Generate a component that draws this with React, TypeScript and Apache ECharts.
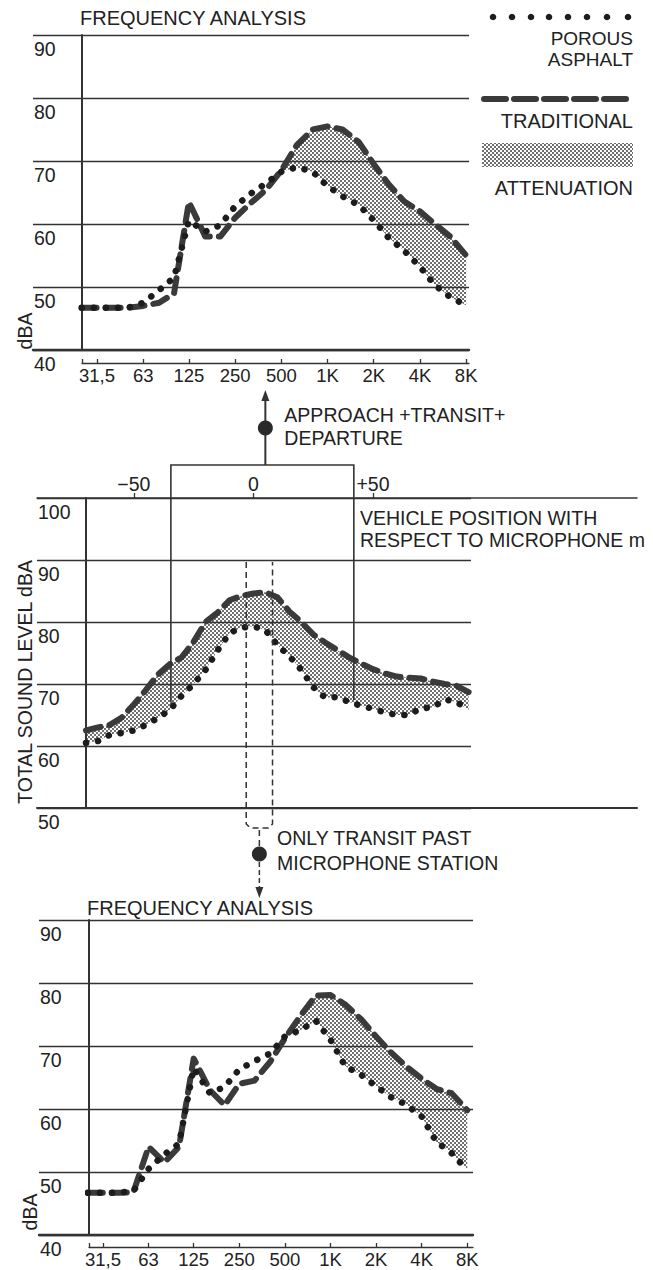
import React, { useEffect, useRef } from "react";
import * as echarts from "echarts";

// Third-octave band centres (Hz) shared by both spectra
const bandHz = [25, 31.5, 40, 50, 63, 80, 100, 125, 160, 200, 250, 315, 400, 500, 630, 800, 1000, 1250, 1600, 2000, 2500, 3150, 4000, 5000, 6300, 8000];
const octaveHz = [31.5, 63, 125, 250, 500, 1000, 2000, 4000, 8000];
const octaveLabels = ["31,5", "63", "125", "250", "500", "1K", "2K", "4K", "8K"];
const attenuationFromHz = 500;

// Approach + transit + departure spectrum, dBA
const fullTraditional = [46.7, 46.7, 46.7, 46.7, 47.0, 47.5, 49.0, 63.5, 58.0, 58.0, 61.0, 63.3, 65.5, 68.5, 72.5, 75.0, 75.5, 75.0, 73.0, 69.5, 66.3, 63.6, 62.0, 60.0, 58.0, 55.0];
const fullPorous = [46.7, 46.7, 46.7, 46.7, 47.5, 49.5, 51.5, 60.5, 58.8, 59.8, 62.8, 64.8, 66.5, 68.3, 69.0, 68.3, 66.0, 64.4, 63.0, 60.6, 57.8, 55.8, 53.2, 50.3, 48.4, 47.1];

// Transit-only spectrum, dBA
const transitTraditional = [46.7, 46.7, 46.7, 46.8, 54.0, 51.5, 54.0, 68.0, 63.0, 60.6, 64.0, 64.5, 67.5, 71.2, 74.7, 78.0, 78.1, 76.6, 74.2, 71.5, 69.0, 66.8, 64.8, 63.2, 62.5, 59.8];
const transitPorous = [46.7, 46.7, 46.7, 47.0, 50.5, 52.8, 54.5, 66.5, 62.5, 63.5, 66.3, 67.6, 68.8, 71.5, 72.5, 74.0, 71.0, 66.8, 65.4, 63.6, 61.9, 60.7, 58.8, 54.8, 53.0, 50.3];

// Total sound level against vehicle position (m)
const positionM = [-70, -65, -60, -55, -50, -45, -40, -35, -30, -25, -20, -15, -10, -5, 0, 5, 10, 15, 20, 25, 30, 35, 40, 45, 50, 55, 60, 65, 70, 75, 80, 85, 90];
const passTraditional = [62.5, 63.0, 63.4, 64.6, 66.7, 69.0, 71.5, 73.2, 74.3, 76.8, 80.0, 81.5, 83.5, 84.2, 84.6, 84.8, 84.0, 81.7, 80.0, 78.0, 76.7, 75.5, 74.3, 73.3, 72.4, 71.7, 71.2, 71.0, 70.9, 70.4, 70.0, 69.7, 68.7];
const passPorous = [60.5, 60.8, 61.8, 62.1, 62.5, 63.4, 64.5, 65.8, 68.1, 70.0, 72.3, 75.4, 78.2, 79.1, 79.3, 78.7, 76.3, 74.5, 72.3, 69.5, 67.8, 67.9, 67.1, 66.5, 66.0, 65.4, 65.0, 65.0, 66.1, 66.2, 67.5, 67.1, 65.8];
const positionTicks = [-50, 0, 50];

// Position windows marked on the pass-by plot (m)
const approachWindow = [-34.5, 42];
const transitWindow = [-3, 8];

const FONT = "'Liberation Sans', Arial, Helvetica, sans-serif";
const INK = "#222";
const RULE = "#333";
const DASH_INK = "#3a3a3a";
const DOT_INK = "#1c1c1c";

const oct = (hz: number) => Math.log2(hz / 31.5);

function makeStipple(): any {
  const c = document.createElement("canvas");
  c.width = 4;
  c.height = 4;
  const g = c.getContext("2d")!;
  g.fillStyle = "#333";
  for (const [x, y] of [[1, 1], [3, 3]]) {
    g.beginPath();
    g.arc(x, y, 0.95, 0, Math.PI * 2);
    g.fill();
  }
  return { image: c.toDataURL(), repeat: "repeat", imageWidth: 4, imageHeight: 4 };
}

function bandSeries(xIdx: number, yIdx: number, xs: number[], upper: number[], lower: number[], from: number, fill: any) {
  return {
    type: "custom",
    xAxisIndex: xIdx,
    yAxisIndex: yIdx,
    silent: true,
    z: 1,
    data: [[xs[from], lower[from]]],
    renderItem: (_p: any, api: any) => {
      const top: number[][] = [];
      const bottom: number[][] = [];
      for (let i = from; i < xs.length; i++) {
        top.push(api.coord([xs[i], Math.max(upper[i], lower[i])]));
        bottom.push(api.coord([xs[i], lower[i]]));
      }
      return { type: "polygon", shape: { points: top.concat(bottom.reverse()) }, style: { fill, stroke: null } };
    },
  };
}

function traditionalLine(xIdx: number, yIdx: number, xs: number[], ys: number[]) {
  return {
    type: "line",
    xAxisIndex: xIdx,
    yAxisIndex: yIdx,
    data: xs.map((x, i) => [x, ys[i]]),
    showSymbol: false,
    symbol: "none",
    z: 3,
    lineStyle: { color: DASH_INK, width: 6, type: [15, 9], cap: "round", join: "round" },
  };
}

function porousLine(xIdx: number, yIdx: number, xs: number[], ys: number[]) {
  return {
    type: "line",
    xAxisIndex: xIdx,
    yAxisIndex: yIdx,
    data: xs.map((x, i) => [x, ys[i]]),
    showSymbol: false,
    symbol: "none",
    z: 4,
    lineStyle: { color: DOT_INK, width: 6.5, type: [0.1, 12], cap: "round" },
  };
}

const frameY = (gridIndex: number, min: number, max: number) => ({
  gridIndex,
  type: "value",
  min,
  max,
  interval: 10,
  axisLine: { show: false },
  axisTick: { show: false },
  axisLabel: {
    inside: true,
    margin: 1,
    verticalAlign: "top",
    padding: [4, 0, 0, 0],
    fontSize: 19.5,
    fontFamily: FONT,
    color: INK,
  },
  splitLine: { show: true, lineStyle: { color: RULE, width: 1.3 } },
});

const dataY = (gridIndex: number, min: number, max: number) => ({
  gridIndex,
  type: "value",
  min,
  max,
  axisLine: { show: true, onZero: false, lineStyle: { color: RULE, width: 2 } },
  axisTick: { show: false },
  axisLabel: { show: false },
  splitLine: { show: false },
});

const baseX = (gridIndex: number, width: number) => ({
  gridIndex,
  type: "value",
  min: 0,
  max: 1,
  position: "bottom",
  axisLine: { show: true, onZero: false, lineStyle: { color: RULE, width } },
  axisTick: { show: false },
  axisLabel: { show: false },
  splitLine: { show: false },
});

const freqLabel = (v: number) => {
  const i = octaveHz.findIndex((f) => Math.abs(oct(f) - v) < 1e-6);
  return i >= 0 ? octaveLabels[i] : "";
};

const freqX = (gridIndex: number, min: number, max: number, offset: number) => ({
  gridIndex,
  type: "value",
  min,
  max,
  position: "bottom",
  offset,
  axisLine: { show: true, onZero: false, lineStyle: { color: RULE, width: 1.3 } },
  axisTick: {
    show: true,
    inside: true,
    length: 4,
    customValues: [min, ...octaveHz.map(oct)],
    lineStyle: { color: RULE, width: 1.3 },
  },
  axisLabel: {
    show: true,
    customValues: octaveHz.map(oct),
    formatter: freqLabel,
    margin: 3,
    fontSize: 18.5,
    fontFamily: FONT,
    color: INK,
  },
  splitLine: { show: false },
});

export default function App() {
  const ref = useRef<HTMLDivElement>(null);

  useEffect(() => {
    document.body.style.margin = "0";
    const el = ref.current!;
    const chart = echarts.init(el, null, { renderer: "svg" });
    const stipple = makeStipple();

    const xs = bandHz.map(oct);
    const fromIdx = bandHz.indexOf(attenuationFromHz);

    // pass-by plot: data area 86..471 px carries -70..91 m; the long rules share the same scale
    const passMin = -70;
    const passMax = 91;
    const pxPerM = 385 / (passMax - passMin);
    const wideMin = passMin - (86 - 37) / pxPerM;
    const wideMax = passMax + (637 - 471) / pxPerM;

    const option: any = {
      animation: false,
      backgroundColor: "#fff",
      grid: [
        { left: 33, top: 35, width: 436, height: 315 },
        { left: 82, top: 35, width: 387, height: 315 },
        { left: 37, top: 498, width: 600, height: 310 },
        { left: 37, top: 498, width: 434, height: 310 },
        { left: 86, top: 498, width: 385, height: 310 },
        { left: 39, top: 920, width: 434, height: 315 },
        { left: 89, top: 920, width: 384, height: 315 },
      ],
      xAxis: [
        baseX(0, 2.4),
        freqX(1, -0.325, 8.05, 13),
        {
          gridIndex: 2,
          type: "value",
          min: wideMin,
          max: wideMax,
          position: "top",
          axisLine: { show: true, onZero: false, lineStyle: { color: RULE, width: 1.5 } },
          axisTick: { show: true, length: 5, customValues: positionTicks, lineStyle: { color: RULE, width: 1.3 } },
          axisLabel: {
            show: true,
            customValues: positionTicks,
            formatter: (v: number) => (v > 0 ? "+" + v : v < 0 ? "\u2212" + -v : "0"),
            margin: 4,
            fontSize: 19.5,
            fontFamily: FONT,
            color: INK,
          },
          splitLine: { show: false },
        },
        baseX(2, 2),
        { gridIndex: 3, type: "value", min: 0, max: 1, show: false },
        { gridIndex: 4, type: "value", min: passMin, max: passMax, show: false },
        baseX(5, 2.4),
        freqX(6, -0.307, 8.114, 12),
      ],
      yAxis: [
        frameY(0, 40, 90),
        dataY(1, 40, 90),
        { gridIndex: 2, type: "value", min: 50, max: 100, show: false },
        frameY(3, 50, 100),
        dataY(4, 50, 100),
        frameY(5, 40, 90),
        dataY(6, 40, 90),
      ],
      series: [
        bandSeries(1, 1, xs, fullTraditional, fullPorous, fromIdx, stipple),
        traditionalLine(1, 1, xs, fullTraditional),
        porousLine(1, 1, xs, fullPorous),
        bandSeries(5, 4, positionM, passTraditional, passPorous, 0, stipple),
        traditionalLine(5, 4, positionM, passTraditional),
        porousLine(5, 4, positionM, passPorous),
        bandSeries(7, 6, xs, transitTraditional, transitPorous, fromIdx, stipple),
        traditionalLine(7, 6, xs, transitTraditional),
        porousLine(7, 6, xs, transitPorous),
      ],
    };
    chart.setOption(option);

    const px = (m: number) => chart.convertToPixel({ xAxisIndex: 5 }, m) as number;
    const boxL = px(approachWindow[0]);
    const boxR = px(approachWindow[1]);
    const upX = (boxL + boxR) / 2 + 3;
    const trL = px(transitWindow[0]);
    const trR = px(transitWindow[1]);
    const downX = (trL + trR) / 2;

    const text = (t: string, x: number, y: number, opts: any = {}) => ({
      type: "text",
      x,
      y,
      rotation: opts.rotation || 0,
      z: 10,
      style: {
        text: t,
        fill: INK,
        fontSize: opts.fontSize || 19.5,
        fontFamily: FONT,
        align: opts.align || "left",
        textAlign: opts.align || "left",
        verticalAlign: "middle",
        textVerticalAlign: "middle",
      },
    });
    const rule = { stroke: RULE, lineWidth: 1.6, fill: null };
    const dashed = { stroke: RULE, lineWidth: 1.5, lineDash: [6, 4], fill: null };
    const legendDots = [493, 512, 531, 549, 568, 587, 607, 628];

    const elements: any[] = [
      // titles and axis names
      text("FREQUENCY ANALYSIS", 80, 18, { fontSize: 20 }),
      text("FREQUENCY ANALYSIS", 87, 908, { fontSize: 20 }),
      text("dBA", 25, 331, { rotation: Math.PI / 2, align: "center" }),
      text("TOTAL SOUND LEVEL dBA", 25, 682, { rotation: Math.PI / 2, align: "center" }),
      text("dBA", 30, 1212, { rotation: Math.PI / 2, align: "center" }),

      // legend
      ...legendDots.map((cx) => ({ type: "circle", z: 10, shape: { cx, cy: 17, r: 3.3 }, style: { fill: DOT_INK } })),
      text("POROUS", 633, 38, { align: "right", fontSize: 19 }),
      text("ASPHALT", 633, 59, { align: "right", fontSize: 19 }),
      {
        type: "line",
        z: 10,
        shape: { x1: 484, y1: 99, x2: 631, y2: 99 },
        style: { stroke: DASH_INK, lineWidth: 6, lineDash: [22, 8], lineCap: "round" },
      },
      text("TRADITIONAL", 633, 121, { align: "right", fontSize: 20 }),
      { type: "rect", z: 10, shape: { x: 482, y: 143, width: 151, height: 24 }, style: { fill: stipple } },
      text("ATTENUATION", 633, 188, { align: "right", fontSize: 20 }),

      // approach + transit + departure window
      { type: "polyline", z: 10, shape: { points: [[boxL, 702], [boxL, 465], [boxR, 465], [boxR, 700]] }, style: rule },
      { type: "line", z: 10, shape: { x1: upX, y1: 465, x2: upX, y2: 398 }, style: { stroke: RULE, lineWidth: 2 } },
      { type: "polygon", z: 10, shape: { points: [[upX, 390], [upX - 4, 401], [upX + 4, 401]] }, style: { fill: RULE } },
      { type: "circle", z: 10, shape: { cx: upX, cy: 428, r: 7.5 }, style: { fill: "#2a2a2a" } },
      text("APPROACH +TRANSIT+", upX + 19, 415),
      text("DEPARTURE", upX + 19, 438),
      text("VEHICLE POSITION WITH", 360, 518),
      text("RESPECT TO MICROPHONE m", 360, 540),

      // transit-only window
      {
        type: "polyline",
        z: 10,
        shape: { points: [[trL, 562], [trL, 824], [trL + 4, 828], [trR - 4, 828], [trR, 824], [trR, 562]] },
        style: dashed,
      },
      { type: "line", z: 10, shape: { x1: downX, y1: 830, x2: downX, y2: 846 }, style: dashed },
      { type: "circle", z: 10, shape: { cx: downX, cy: 854, r: 7.5 }, style: { fill: "#2a2a2a" } },
      { type: "line", z: 10, shape: { x1: downX, y1: 862, x2: downX, y2: 889 }, style: { ...dashed, lineDash: [5, 3] } },
      { type: "polygon", z: 10, shape: { points: [[downX, 898], [downX - 4, 887], [downX + 4, 887]] }, style: { fill: RULE } },
      text("ONLY TRANSIT PAST", 277, 838),
      text("MICROPHONE STATION", 277, 863),
    ];

    chart.setOption({ graphic: { elements } });
    return () => chart.dispose();
  }, []);

  return (
    <div
      ref={ref}
      style={{ position: "absolute", left: 0, top: 0, width: 653, height: 1270, background: "#fff" }}
    />
  );
}
